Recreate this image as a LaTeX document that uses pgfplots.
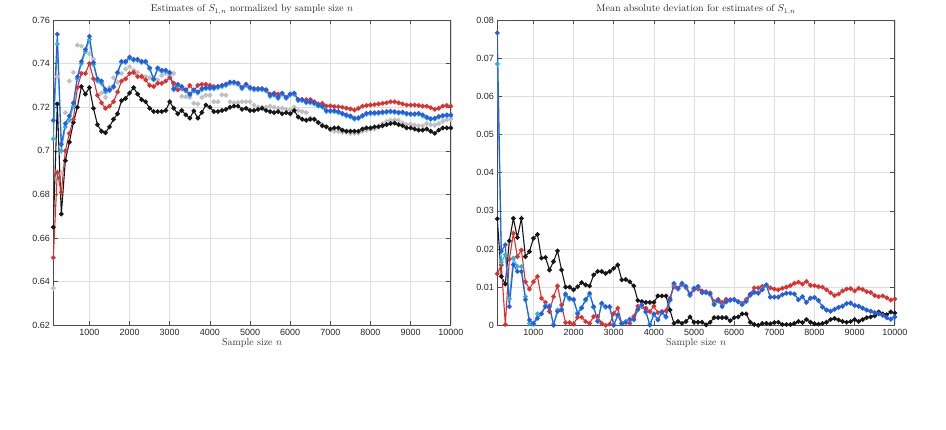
\documentclass[border=0pt]{standalone}
\usepackage{fontspec}
\usepackage{pgfplots}
\usepackage{pgfplotstable}
\pgfplotsset{compat=1.18}
\newfontfamily\hel{Liberation Sans}
\definecolor{cred}{RGB}{222,48,45}
\definecolor{cblue}{RGB}{40,92,228}
\definecolor{ccyan}{RGB}{45,178,222}
\definecolor{cblack}{RGB}{22,22,22}
\definecolor{cgray}{RGB}{192,192,192}

\pgfplotstableread{
x black red blue cyan gray
100 0.665 0.651 0.714 0.7055 0.637
200 0.7215 0.690 0.7535 0.749 0.734
300 0.671 0.681 0.703 0.700 0.690
400 0.6955 0.700 0.7125 0.711 0.7175
500 0.704 0.708 0.716 0.714 0.732
600 0.713 0.7145 0.722 0.7205 0.736
700 0.720 0.729 0.734 0.733 0.7485
800 0.7295 0.7355 0.741 0.740 0.748
900 0.726 0.7355 0.7465 0.7455 0.7465
1000 0.729 0.740 0.7525 0.751 0.7445
1100 0.7195 0.733 0.7405 0.7395 0.742
1200 0.712 0.7255 0.733 0.732 0.7325
1300 0.709 0.722 0.732 0.731 0.7265
1400 0.7083 0.7195 0.728 0.727 0.7245
1500 0.711 0.7205 0.728 0.7275 0.729
1600 0.7145 0.7225 0.7295 0.729 0.7335
1700 0.717 0.727 0.736 0.7355 0.7315
1800 0.723 0.732 0.741 0.7405 0.7355
1900 0.724 0.733 0.741 0.7405 0.7375
2000 0.7265 0.7355 0.743 0.7425 0.7385
2100 0.729 0.736 0.742 0.7415 0.737
2200 0.726 0.734 0.742 0.7415 0.736
2300 0.7235 0.734 0.741 0.7405 0.7345
2400 0.7225 0.7325 0.741 0.7405 0.734
2500 0.7195 0.730 0.738 0.7375 0.7335
2600 0.718 0.7295 0.733 0.7325 0.733
2700 0.718 0.731 0.738 0.7375 0.7325
2800 0.718 0.731 0.737 0.7365 0.7345
2900 0.7185 0.732 0.737 0.7365 0.7355
3000 0.7225 0.7335 0.736 0.7355 0.7345
3100 0.7195 0.731 0.7285 0.728 0.7355
3200 0.717 0.728 0.7305 0.730 0.728
3300 0.7185 0.7285 0.7295 0.729 0.725
3400 0.7165 0.7275 0.728 0.7275 0.7248
3500 0.715 0.730 0.726 0.7255 0.7245
3600 0.7183 0.7275 0.728 0.7275 0.7218
3700 0.715 0.730 0.727 0.7265 0.7215
3800 0.7176 0.7305 0.7285 0.728 0.7245
3900 0.721 0.7305 0.729 0.7285 0.7255
4000 0.720 0.730 0.729 0.7285 0.7255
4100 0.718 0.7295 0.729 0.7285 0.7225
4200 0.718 0.7295 0.7295 0.729 0.7225
4300 0.7185 0.7300 0.7300 0.7295 0.7257
4400 0.719 0.7305 0.7305 0.730 0.7255
4500 0.720 0.7315 0.7315 0.731 0.7225
4600 0.7205 0.7315 0.7315 0.731 0.722
4700 0.7205 0.731 0.731 0.7305 0.7222
4800 0.719 0.729 0.729 0.7285 0.7225
4900 0.7195 0.7305 0.7305 0.730 0.7225
5000 0.7185 0.729 0.729 0.7285 0.7225
5100 0.7185 0.7285 0.7285 0.728 0.721
5200 0.719 0.7285 0.7285 0.728 0.720
5300 0.7195 0.7285 0.7285 0.728 0.720
5400 0.7185 0.728 0.728 0.7275 0.720
5500 0.718 0.726 0.7255 0.725 0.7205
5600 0.7175 0.7265 0.726 0.7255 0.720
5700 0.718 0.726 0.7245 0.724 0.7195
5800 0.717 0.726 0.7265 0.726 0.7195
5900 0.7175 0.7245 0.7245 0.724 0.719
6000 0.717 0.726 0.726 0.7255 0.7188
6100 0.7185 0.726 0.7265 0.726 0.720
6200 0.7155 0.7235 0.7235 0.723 0.7185
6300 0.7145 0.7235 0.7235 0.723 0.718
6400 0.714 0.7235 0.7225 0.722 0.7175
6500 0.7145 0.7235 0.7225 0.722 0.715
6600 0.7145 0.7225 0.722 0.7215 0.7145
6700 0.713 0.7215 0.721 0.7205 0.713
6800 0.7115 0.7218 0.7205 0.720 0.712
6900 0.711 0.7206 0.7185 0.718 0.711
7000 0.710 0.7206 0.7184 0.718 0.7095
7100 0.7105 0.7203 0.7184 0.718 0.709
7200 0.7105 0.7202 0.718 0.7175 0.709
7300 0.7095 0.7200 0.7172 0.7168 0.7085
7400 0.709 0.7196 0.7165 0.716 0.7085
7500 0.709 0.7192 0.716 0.7155 0.708
7600 0.709 0.7187 0.715 0.7145 0.708
7700 0.709 0.7195 0.7152 0.7148 0.7082
7800 0.710 0.7205 0.7162 0.7158 0.709
7900 0.7105 0.7208 0.7172 0.7168 0.7095
8000 0.7105 0.721 0.7175 0.717 0.7098
8100 0.711 0.7212 0.7175 0.717 0.710
8200 0.711 0.7215 0.7176 0.7172 0.7115
8300 0.7115 0.7218 0.7178 0.7174 0.7125
8400 0.712 0.722 0.718 0.7176 0.7135
8500 0.7125 0.7225 0.7182 0.7178 0.714
8600 0.7127 0.7225 0.718 0.7176 0.7142
8700 0.712 0.722 0.7177 0.7173 0.714
8800 0.7115 0.7215 0.7178 0.7174 0.7128
8900 0.7105 0.721 0.7172 0.7168 0.712
9000 0.7105 0.721 0.717 0.7166 0.7122
9100 0.710 0.721 0.717 0.7166 0.7118
9200 0.7095 0.7208 0.7172 0.7168 0.7115
9300 0.7095 0.7205 0.7165 0.716 0.7115
9400 0.710 0.7205 0.7155 0.715 0.7125
9500 0.709 0.7198 0.7148 0.7144 0.712
9600 0.708 0.719 0.715 0.7146 0.7118
9700 0.7095 0.7195 0.7158 0.7154 0.7125
9800 0.7105 0.7205 0.7162 0.7158 0.7135
9900 0.7105 0.7208 0.7165 0.716 0.7142
10000 0.7105 0.7205 0.7165 0.716 0.7145
}\leftdata

\pgfplotstableread{
x black red blue cyan
100 0.0279 0.0135 0.0766 0.0685
200 0.0128 0.0158 0.0194 0.0165
300 0.0108 0.0002 0.0211 0.0185
400 0.0221 0.0173 0.0049 0.0070
500 0.0280 0.0241 0.0159 0.0176
600 0.0230 0.0180 0.0141 0.0154
700 0.0280 0.0197 0.0141 0.0154
800 0.0180 0.0114 0.0067 0.0075
900 0.0193 0.0095 0.0014 0.0005
1000 0.0228 0.0114 0.0005 0.0002
1100 0.0238 0.0128 0.0018 0.0030
1200 0.0176 0.0071 0.0030 0.0031
1300 0.0178 0.0060 0.0049 0.0052
1400 0.0145 0.0036 0.0049 0.0052
1500 0.0167 0.0075 0.0000 0.0002
1600 0.0195 0.0103 0.0036 0.0040
1700 0.0145 0.0053 0.0040 0.0043
1800 0.0100 0.0007 0.0082 0.0078
1900 0.0100 0.0007 0.0071 0.0068
2000 0.0093 0.0003 0.0068 0.0066
2100 0.0101 0.0021 0.0030 0.0034
2200 0.0112 0.0021 0.0045 0.0047
2300 0.0106 0.0010 0.0068 0.0065
2400 0.0103 0.0005 0.0084 0.0080
2500 0.0132 0.0023 0.0049 0.0047
2600 0.0141 0.0023 0.0010 0.0013
2700 0.0141 0.0005 0.0058 0.0055
2800 0.0136 0.0000 0.0049 0.0047
2900 0.0141 0.0003 0.0049 0.0047
3000 0.0149 0.0031 0.0000 0.0002
3100 0.0158 0.0045 0.0027 0.0024
3200 0.0119 0.0005 0.0004 0.0006
3300 0.0120 0.0010 0.0007 0.0009
3400 0.0114 0.0005 0.0016 0.0014
3500 0.0103 0.0023 0.0016 0.0014
3600 0.0065 0.0050 0.0042 0.0040
3700 0.0062 0.0049 0.0054 0.0051
3800 0.0060 0.0045 0.0036 0.0034
3900 0.0060 0.0036 0.0000 0.0003
4000 0.0060 0.0050 0.0030 0.0027
4100 0.0077 0.0033 0.0014 0.0016
4200 0.0077 0.0036 0.0035 0.0033
4300 0.0077 0.0038 0.0023 0.0021
4400 0.0040 0.0071 0.0067 0.0065
4500 0.0005 0.0101 0.0110 0.0107
4600 0.0010 0.0095 0.0097 0.0095
4700 0.0005 0.0107 0.0110 0.0108
4800 0.0010 0.0098 0.0102 0.0100
4900 0.0022 0.0078 0.0082 0.0080
5000 0.0008 0.0093 0.0097 0.0095
5100 0.0008 0.0095 0.0102 0.0100
5200 0.0008 0.0090 0.0086 0.0085
5300 0.0001 0.0088 0.0086 0.0085
5400 0.0008 0.0085 0.0082 0.0080
5500 0.0020 0.0062 0.0054 0.0057
5600 0.0020 0.0068 0.0065 0.0063
5700 0.0020 0.0060 0.0049 0.0052
5800 0.0020 0.0068 0.0062 0.0061
5900 0.0012 0.0065 0.0067 0.0066
6000 0.0020 0.0068 0.0067 0.0066
6100 0.0022 0.0062 0.0062 0.0061
6200 0.0030 0.0058 0.0054 0.0056
6300 0.0030 0.0068 0.0062 0.0064
6400 0.0008 0.0082 0.0080 0.0078
6500 0.0002 0.0098 0.0086 0.0088
6600 0.0000 0.0098 0.0084 0.0086
6700 0.0005 0.0102 0.0093 0.0095
6800 0.0005 0.0105 0.0106 0.0104
6900 0.0004 0.0098 0.0074 0.0074
7000 0.0007 0.0095 0.0074 0.0074
7100 0.0008 0.0093 0.0074 0.0074
7200 0.0002 0.0097 0.0080 0.0080
7300 0.0002 0.0100 0.0084 0.0084
7400 0.0002 0.0104 0.0084 0.0084
7500 0.0005 0.0110 0.0082 0.0082
7600 0.0010 0.0113 0.0067 0.0067
7700 0.0007 0.0108 0.0075 0.0075
7800 0.0015 0.0115 0.0060 0.0060
7900 0.0008 0.0105 0.0071 0.0071
8000 0.0004 0.0104 0.0073 0.0073
8100 0.0003 0.0101 0.0065 0.0065
8200 0.0005 0.0100 0.0048 0.0048
8300 0.0008 0.0093 0.0040 0.0040
8400 0.0015 0.0085 0.0037 0.0037
8500 0.0018 0.0078 0.0042 0.0042
8600 0.0014 0.0082 0.0047 0.0047
8700 0.0010 0.0090 0.0050 0.0050
8800 0.0008 0.0095 0.0057 0.0057
8900 0.0010 0.0096 0.0058 0.0058
9000 0.0015 0.0090 0.0052 0.0052
9100 0.0010 0.0097 0.0050 0.0050
9200 0.0015 0.0094 0.0045 0.0045
9300 0.0020 0.0088 0.0040 0.0040
9400 0.0022 0.0086 0.0037 0.0037
9500 0.0025 0.0078 0.0033 0.0033
9600 0.0035 0.0075 0.0030 0.0030
9700 0.0030 0.0077 0.0026 0.0026
9800 0.0028 0.0072 0.0020 0.0020
9900 0.0035 0.0066 0.0016 0.0016
10000 0.0032 0.0069 0.0022 0.0022
}\rightdata

\pgfplotsset{
  panel/.style={
    width=397.5pt, height=305.3pt, scale only axis,
    anchor=south west,
    xmin=100, xmax=10000,
    xtick={1000,2000,3000,4000,5000,6000,7000,8000,9000,10000},
    scaled ticks=false,
    grid=major,
    major grid style={black!13, line width=0.5pt},
    axis line style={black!70, line width=0.6pt},
    tick style={black!70, line width=0.6pt},
    tick align=inside, major tick length=4.5pt,
    tick label style={font=\hel\fontsize{9}{10}\selectfont, text=black!85},
    /pgf/number format/assume math mode=true,
    x tick label style={/pgf/number format/1000 sep={}},
    y tick label style={/pgf/number format/fixed, /pgf/number format/precision=2},
    xlabel={Sample size $n$},
    xlabel style={font=\fontsize{10}{12}\selectfont, text=black!80, yshift=4pt},
    title style={font=\fontsize{10}{12}\selectfont, text=black!85, yshift=-4pt},
    every axis plot/.append style={line width=1.1pt, mark=*, mark size=1.8pt},
  },
}

\begin{document}
\begin{tikzpicture}
\useasboundingbox (0,0) rectangle (946pt,430pt);
\begin{axis}[panel, at={(53.3pt,104.7pt)},
  ymin=0.62, ymax=0.76, ytick={0.62,0.64,0.66,0.68,0.70,0.72,0.74,0.76},
  title={Estimates of $S_{1,n}$ normalized by sample size $n$}]
\addplot[color=cgray, only marks, mark size=1.9pt] table[x=x, y=gray] {\leftdata};
\addplot[color=cblack] table[x=x, y=black] {\leftdata};
\addplot[color=cred] table[x=x, y=red] {\leftdata};
\addplot[color=ccyan] table[x=x, y=cyan] {\leftdata};
\addplot[color=cblue] table[x=x, y=blue] {\leftdata};
\end{axis}
\begin{axis}[panel, at={(497.3pt,104.7pt)},
  ymin=0, ymax=0.08, ytick={0,0.01,0.02,0.03,0.04,0.05,0.06,0.07,0.08},
  title={Mean absolute deviation for estimates of $S_{1,n}$}]
\addplot[color=cblack] table[x=x, y=black] {\rightdata};
\addplot[color=cred] table[x=x, y=red] {\rightdata};
\addplot[color=ccyan] table[x=x, y=cyan] {\rightdata};
\addplot[color=cblue] table[x=x, y=blue] {\rightdata};
\end{axis}
\end{tikzpicture}
\end{document}
